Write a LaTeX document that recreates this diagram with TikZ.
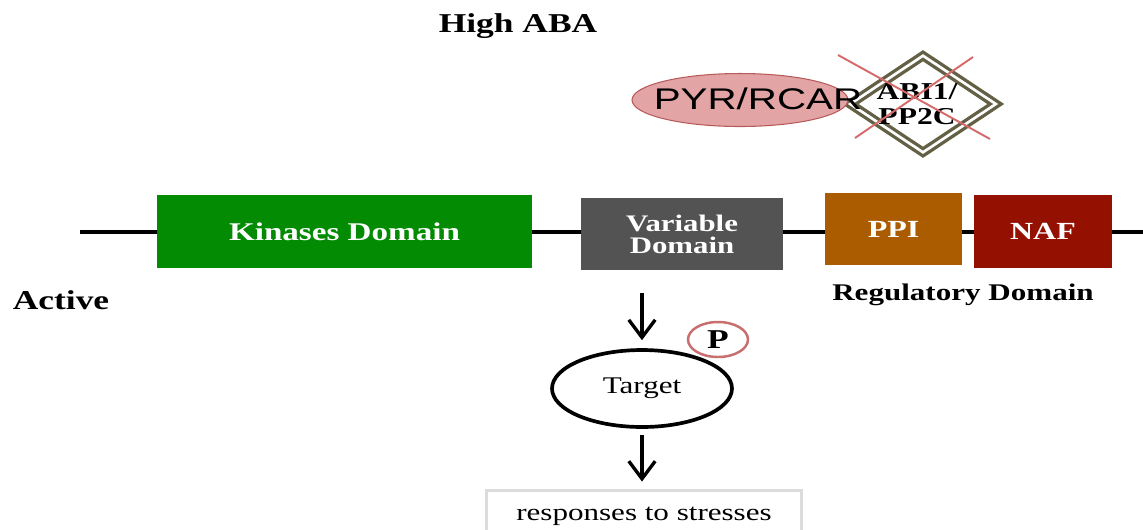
\documentclass[tikz,border=0pt]{standalone}
\usepackage{fontspec}
\setmainfont{Liberation Serif}
\newfontfamily\pyrfont{Liberation Sans}
\usepackage{graphicx}
\usetikzlibrary{shapes.geometric, arrows.meta}

\definecolor{kinaseGreen}{RGB}{3,140,3}
\definecolor{variableGray}{RGB}{83,83,83}
\definecolor{ppiBrown}{RGB}{171,91,0}
\definecolor{nafRed}{RGB}{148,16,0}
\definecolor{pyrFill}{RGB}{226,164,164}
\definecolor{pyrEdge}{RGB}{185,90,90}
\definecolor{abiOlive}{RGB}{100,96,70}
\definecolor{crossRed}{RGB}{214,106,106}
\definecolor{phosphoRed}{RGB}{200,110,110}
\definecolor{responseGray}{RGB}{220,220,220}

\newcommand{\sx}[1]{\scalebox{1.3}[1]{#1}}

\tikzstyle{domainbox} = [rectangle, inner sep=0pt, text=white, align=center, font=\bfseries\fontsize{14}{12}\selectfont]
\tikzstyle{labeltext} = [inner sep=0pt, font=\bfseries\fontsize{14}{14}\selectfont]
\tikzstyle{receptor} = [ellipse, minimum width=4.32cm, minimum height=1.06cm, inner sep=0pt, fill=pyrFill, draw=pyrEdge, line width=0.6pt]
\tikzstyle{phosphatase} = [diamond, minimum width=2.94cm, minimum height=1.96cm, inner sep=0pt, draw=abiOlive, double=white, double distance=1.5pt, line width=1.9pt]
\tikzstyle{crossline} = [line width=1.1pt, draw=crossRed]
\tikzstyle{targetnode} = [ellipse, draw, line width=2.1pt, minimum width=3.6cm, minimum height=1.54cm, inner sep=0pt, font=\fontsize{13.6}{14}\selectfont]
\tikzstyle{phospho} = [ellipse, draw=phosphoRed, line width=1.4pt, fill=white, minimum width=1.2cm, minimum height=0.7cm, inner sep=0pt, font=\bfseries\fontsize{15.5}{15}\selectfont]
\tikzstyle{response} = [rectangle, draw=responseGray, line width=1.7pt, minimum width=6.3cm, minimum height=1.04cm, inner sep=0pt, font=\fontsize{13.6}{14}\selectfont]
\tikzstyle{backbone} = [line width=2pt]
\tikzstyle{arrow} = [line width=1.9pt, -{Straight Barb[length=10pt, width=15pt]}]

\begin{document}
\begin{tikzpicture}[x=0.02cm, y=-0.02cm]
\useasboundingbox (0,0) rectangle (1143,529);

\node (highABA) [labeltext, font=\bfseries\fontsize{15.5}{16}\selectfont] at (518,26) {\sx{High ABA}};

% receptor and phosphatase
\node (abi) [phosphatase, label={[align=center, font=\bfseries\fontsize{13.8}{14}\selectfont, xshift=-0.12cm]center:{\sx{ABI1/}\\\sx{PP2C}}}] at (923,104) {};
\node (pyr) [receptor, label={[font=\pyrfont\fontsize{17}{17}\selectfont, xshift=0.36cm, yshift=0.02cm]center:\scalebox{1.35}[1]{PYR/RCAR}}] at (740,100) {};
\draw [crossline] (838,55) -- (990,139);
\draw [crossline] (973,57) -- (855,138);

% kinase backbone
\coordinate (lineL) at (80,232);
\coordinate (lineR) at (1143,232);
\draw [backbone] (lineL) -- (lineR);

\node (kinase) [domainbox, fill=kinaseGreen, minimum width=7.5cm, minimum height=1.46cm, font=\bfseries\fontsize{14.5}{12}\selectfont] at (344.5,231.5) {\sx{Kinases Domain}};
\node (variable) [domainbox, fill=variableGray, minimum width=4.04cm, minimum height=1.44cm, font=\bfseries\fontsize{13.5}{12.6}\selectfont] at (682,234) {\sx{Variable}\\\sx{Domain}};
\node (ppi) [domainbox, fill=ppiBrown, minimum width=2.74cm, minimum height=1.44cm] at (893.5,229) {\sx{PPI}};
\node (naf) [domainbox, fill=nafRed, minimum width=2.76cm, minimum height=1.46cm] at (1043,231.5) {\sx{NAF}};

\node (active) [labeltext, font=\bfseries\fontsize{15.5}{15}\selectfont] at (61,300) {\sx{Active}};
\node (regulatory) [labeltext, font=\bfseries\fontsize{13.6}{14}\selectfont] at (963,294.5) {\sx{Regulatory Domain}};

% downstream
\node (target) [targetnode] at (642,388.5) {\sx{Target}};
\node (phosphate) [phospho] at (718,339.5) {\sx{P}};
\node (responses) [response] at (644,516) {\sx{responses to stresses}};

\draw [arrow, shorten <=0.46cm, shorten >=0.16cm] (variable.south -| target.north) -- (target.north);
\draw [arrow, shorten <=0.12cm, shorten >=0.14cm] (target.south) -- (target.south |- responses.north);
\end{tikzpicture}
\end{document}
